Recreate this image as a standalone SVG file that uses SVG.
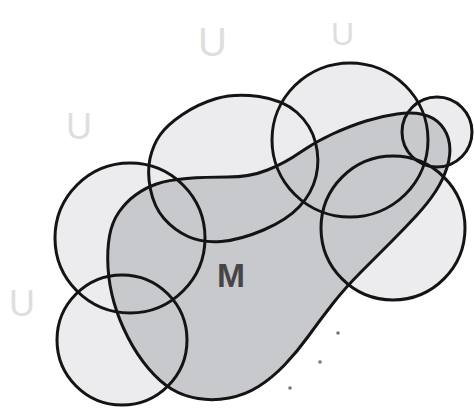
<svg xmlns="http://www.w3.org/2000/svg" width="474" height="409" viewBox="0 0 474 409">
<style>
.fill{fill:#ececee;stroke:none}
.mfill{fill:#c8c9cd;stroke:none}
.ln{fill:none;stroke:#141414;stroke-width:3}
.lab{font-family:"Liberation Sans",Arial,sans-serif;fill:#dedede}
</style>
<defs>
<path id="pA" d="M150.5,189.5 Q147,172 150,158.5 Q153,145 160,135 Q167,125 182.5,114.5 Q198,104 216.5,98.5 Q235,93 259,96.5 Q283,100 297,112.5 Q311,125 315.5,142.5 Q320,160 316,176.5 Q312,193 299.5,206.5 Q287,220 263.5,230 Q240,240 221,241.5 Q202,243 188,236.5 Q174,230 164,218.5 Q154,207 150.5,189.5 Z"/>
<path id="pM" d="M108,267.5 Q107,250 109.5,236 Q112,222 119,212 Q126,202 135.5,195 Q145,188 156.5,184 Q168,180 186.5,178.5 Q205,177 227.5,177 Q250,177 267.5,170 Q285,163 300,152.5 Q315,142 332.5,134 Q350,126 366,121 Q382,116 397,114 Q412,112 423,114.5 Q434,117 441,125 Q448,133 449.5,144 Q451,155 447,167.5 Q443,180 435.5,191.5 Q428,203 416.5,215.5 Q405,228 391.5,241.5 Q378,255 361.5,271.5 Q345,288 332.5,304 Q320,320 308.5,336 Q297,352 284.5,365 Q272,378 258.5,386.5 Q245,395 229,398 Q213,401 198,398.5 Q183,396 171.5,389 Q160,382 148.5,368.5 Q137,355 128,337.5 Q119,320 114,302.5 Q109,285 108,267.5 Z"/>
</defs>
<g id="labels">
<text class="lab" x="198" y="56" font-size="40">U</text>
<text class="lab" x="331" y="45" font-size="32">U</text>
<text class="lab" x="66" y="139" font-size="36">U</text>
<text class="lab" x="9" y="316" font-size="36">U</text>
</g>
<g id="fills">
<ellipse class="fill" cx="350" cy="140" rx="78" ry="77"/>
<use href="#pA" class="fill"/>
<circle class="fill" cx="437" cy="132" r="35"/>
<circle class="fill" cx="393" cy="228" r="72"/>
<circle class="fill" cx="130" cy="238" r="75"/>
<circle class="fill" cx="122" cy="340" r="65"/>
</g>
<g id="M">
<use href="#pM" class="mfill"/>
<use href="#pM" class="ln"/>
<text x="231" y="287" font-family="Liberation Sans, Arial, sans-serif" font-size="34" font-weight="bold" fill="#464646" text-anchor="middle" textLength="28" lengthAdjust="spacingAndGlyphs">M</text>
</g>
<g id="U1"><use href="#pA" class="ln"/></g>
<g id="U2"><ellipse class="ln" cx="350" cy="140" rx="78" ry="77"/></g>
<g id="U3"><circle class="ln" cx="437" cy="132" r="35"/></g>
<g id="U4"><circle class="ln" cx="393" cy="228" r="72"/></g>
<g id="U5"><circle class="ln" cx="130" cy="238" r="75"/></g>
<g id="U6"><circle class="ln" cx="122" cy="340" r="65"/></g>
<g id="dots" fill="#777">
<circle cx="338" cy="333" r="1.8"/>
<circle cx="320" cy="362" r="1.8"/>
<circle cx="290" cy="388" r="1.8"/>
</g>
<g id="connectors"/>
</svg>
